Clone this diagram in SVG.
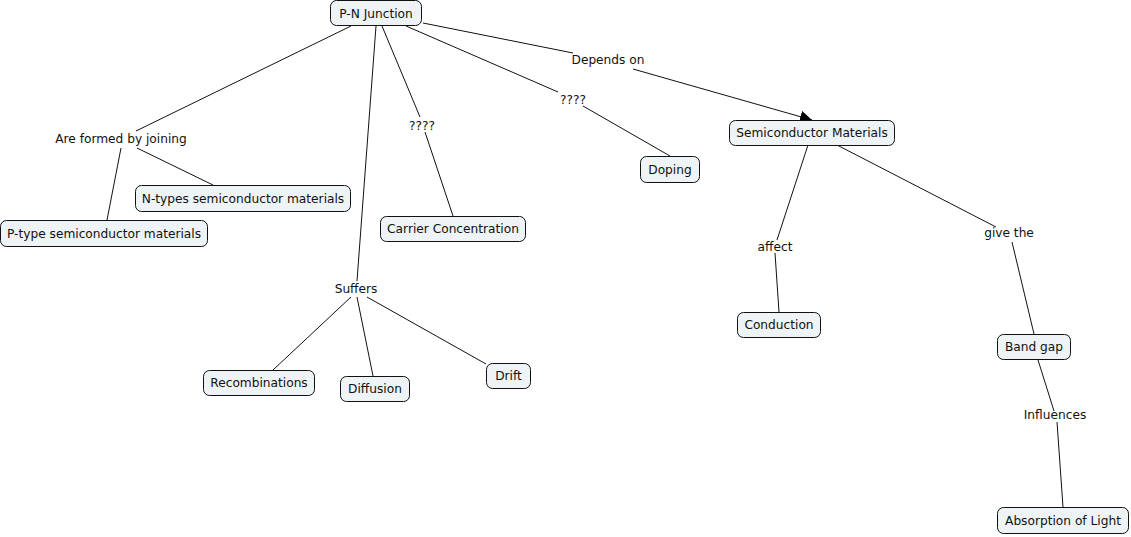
<svg xmlns="http://www.w3.org/2000/svg" width="1131" height="537" viewBox="0 0 1131 537">
<style>
.n rect{fill:#eef3f5;stroke:#111;stroke-width:1}
text{font-family:"DejaVu Sans",Verdana,sans-serif;font-size:12.2px;fill:#111;text-anchor:middle}
.c line{stroke:#111;stroke-width:1;fill:none}
</style>
<defs>
<marker id="ah" viewBox="0 0 10 10" refX="10" refY="5" markerWidth="12" markerHeight="12" markerUnits="userSpaceOnUse" orient="auto">
<path d="M0,0 L10,5 L0,10 z" fill="#000"/>
</marker>
</defs>
<rect width="1131" height="537" fill="#fff"/>
<g class="c" id="connectors">
<line x1="351" y1="26" x2="136" y2="131"/>
<line x1="121" y1="148" x2="107" y2="220"/>
<line x1="137" y1="148" x2="213" y2="185"/>
<line x1="376" y1="26" x2="357" y2="281"/>
<line x1="351" y1="297" x2="273" y2="370"/>
<line x1="357" y1="297" x2="373" y2="376"/>
<line x1="367" y1="297" x2="486" y2="364"/>
<line x1="382" y1="26" x2="420" y2="117"/>
<line x1="425" y1="132" x2="453" y2="216"/>
<line x1="406" y1="26" x2="558" y2="92"/>
<line x1="583" y1="106" x2="670" y2="156"/>
<line x1="423" y1="23" x2="573" y2="53"/>
<line x1="633" y1="69" x2="812" y2="120" marker-end="url(#ah)"/>
<line x1="808" y1="145" x2="777" y2="240"/>
<line x1="775" y1="253" x2="779" y2="312"/>
<line x1="837" y1="145" x2="996" y2="227"/>
<line x1="1012" y1="242" x2="1034" y2="334"/>
<line x1="1038" y1="360" x2="1054" y2="411"/>
<line x1="1057" y1="422" x2="1063" y2="507"/>
</g>
<g id="labels">
<text x="121" y="143">Are formed by joining</text>
<text x="422" y="130">????</text>
<text x="573" y="104">????</text>
<text x="608" y="64">Depends on</text>
<text x="356" y="293">Suffers</text>
<text x="775" y="251">affect</text>
<text x="1009" y="237">give the</text>
<text x="1055" y="419">Influences</text>
</g>
<g class="n" id="pn"><rect x="330.5" y="0.5" width="91" height="25" rx="6"/><text x="376" y="18">P-N Junction</text></g>
<g class="n" id="ntype"><rect x="135.5" y="185.5" width="215" height="26" rx="6"/><text x="243" y="203">N-types semiconductor materials</text></g>
<g class="n" id="ptype"><rect x="0.5" y="220.5" width="207" height="26" rx="6"/><text x="104" y="238">P-type semiconductor materials</text></g>
<g class="n" id="semi"><rect x="729.5" y="120.5" width="165" height="25" rx="6"/><text x="812" y="137">Semiconductor Materials</text></g>
<g class="n" id="carrier"><rect x="380.5" y="216.5" width="145" height="25" rx="6"/><text x="453" y="233">Carrier Concentration</text></g>
<g class="n" id="doping"><rect x="640.5" y="156.5" width="59" height="26" rx="6"/><text x="670" y="174">Doping</text></g>
<g class="n" id="recomb"><rect x="203.5" y="370.5" width="111" height="25" rx="6"/><text x="259" y="387">Recombinations</text></g>
<g class="n" id="diffusion"><rect x="340.5" y="376.5" width="69" height="25" rx="6"/><text x="375" y="393">Diffusion</text></g>
<g class="n" id="drift"><rect x="486.5" y="363.5" width="44" height="25" rx="6"/><text x="508.5" y="380">Drift</text></g>
<g class="n" id="conduction"><rect x="737.5" y="312.5" width="83" height="25" rx="6"/><text x="779" y="329">Conduction</text></g>
<g class="n" id="bandgap"><rect x="997.5" y="334.5" width="73" height="25" rx="6"/><text x="1034" y="351">Band gap</text></g>
<g class="n" id="absorption"><rect x="997.5" y="507.5" width="131" height="26" rx="6"/><text x="1063" y="525">Absorption of Light</text></g>
</svg>
